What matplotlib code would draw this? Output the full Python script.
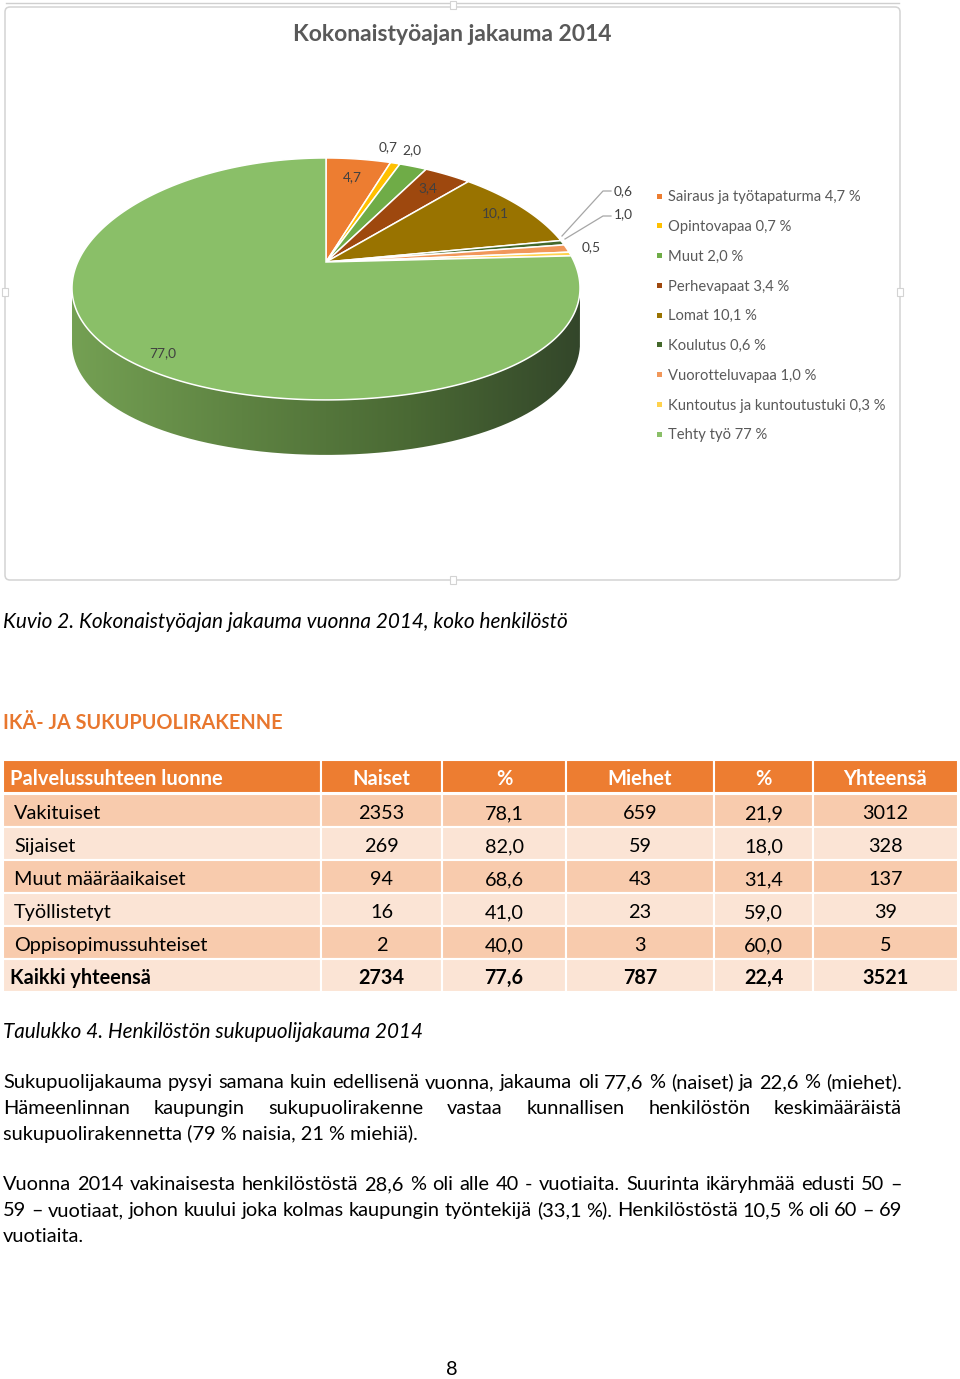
import numpy as np
import matplotlib
matplotlib.use("Agg")
import matplotlib.pyplot as plt
from matplotlib import transforms as mtransforms
from matplotlib.path import Path
from matplotlib.patches import Rectangle, FancyBboxPatch
from matplotlib.colors import LinearSegmentedColormap

plt.rcParams['font.family'] = ['Lato', 'DejaVu Sans']

# ---------------- data ----------------
chart_title = "Kokonaistyöajan jakauma 2014"
pie_categories = ["Sairaus ja työtapaturma", "Opintovapaa", "Muut", "Perhevapaat",
                  "Lomat", "Koulutus", "Vuorotteluvapaa",
                  "Kuntoutus ja kuntoutustuki", "Tehty työ"]
pie_values = [4.7, 0.7, 2.0, 3.4, 10.1, 0.6, 1.0, 0.5, 77.0]
pie_value_labels = ["4,7", "0,7", "2,0", "3,4", "10,1", "0,6", "1,0", "0,5", "77,0"]
legend_values = ["4,7 %", "0,7 %", "2,0 %", "3,4 %", "10,1 %", "0,6 %", "1,0 %", "0,3 %", "77 %"]
pie_colors = ["#ED7D31", "#FFC000", "#6FAC47", "#9E480E", "#997300",
              "#43682B", "#F1975A", "#FFD24D", "#8ABF68"]

caption_chart = "Kuvio 2. Kokonaistyöajan jakauma vuonna 2014, koko henkilöstö"
section_heading = "IKÄ- JA SUKUPUOLIRAKENNE"
table_columns = ["Palvelussuhteen luonne", "Naiset", "%", "Miehet", "%", "Yhteensä"]
row_names = ["Vakituiset", "Sijaiset", "Muut määräaikaiset", "Työllistetyt",
             "Oppisopimussuhteiset", "Kaikki yhteensä"]
naiset = [2353, 269, 94, 16, 2, 2734]
naiset_pct = [78.1, 82.0, 68.6, 41.0, 40.0, 77.6]
miehet = [659, 59, 43, 23, 3, 787]
miehet_pct = [21.9, 18.0, 31.4, 59.0, 60.0, 22.4]
yhteensa = [3012, 328, 137, 39, 5, 3521]
caption_table = "Taulukko 4. Henkilöstön sukupuolijakauma 2014"
paragraph_lines = [
    ("Sukupuolijakauma pysyi samana kuin edellisenä vuonna, jakauma oli 77,6 % (naiset) ja 22,6 % (miehet).", True),
    ("Hämeenlinnan kaupungin sukupuolirakenne vastaa kunnallisen henkilöstön keskimääräistä", True),
    ("sukupuolirakennetta (79 % naisia, 21 % miehiä).", False),
    ("Vuonna 2014 vakinaisesta henkilöstöstä 28,6 % oli alle 40 - vuotiaita. Suurinta ikäryhmää edusti 50 –", True),
    ("59 – vuotiaat, johon kuului joka kolmas kaupungin työntekijä (33,1 %). Henkilöstöstä 10,5 % oli 60 – 69", True),
    ("vuotiaita.", False),
]
page_number = "8"


def fmt_pct(v):
    return f"{v:.1f}".replace(".", ",")


# ---------------- figure / page axes (1 unit = 1 px, y down) ----------------
W, H = 960, 1379
fig = plt.figure(figsize=(W / 100, H / 100), dpi=100)
fig.patch.set_facecolor("white")


def setup(ax):
    ax.set_xlim(0, W)
    ax.set_ylim(H, 0)
    ax.set_axis_off()
    ax.patch.set_visible(False)


bg = fig.add_axes([0, 0, 1, 1], zorder=0)
setup(bg)
R = fig.canvas.get_renderer()
PX = 100 / 72.0


def text_width(s, size, **kw):
    t = bg.text(0, 0, s, fontsize=size, **kw)
    w = t.get_window_extent(renderer=R).width
    t.remove()
    return w


def fit(s, target, **kw):
    return 12.0 * target / text_width(s, 12.0, **kw)


def base(yc, fs):
    # baseline for a visual (cap-height) centre at yc
    return yc + 0.36 * fs * PX


# ---------------- perspective transform for the 3-D pie ----------------
class Persp(mtransforms.Transform):
    input_dims = 2
    output_dims = 2
    is_separable = False
    has_inverse = False

    def __init__(self, k, c):
        super().__init__()
        self.k = k
        self.c = c

    def transform_non_affine(self, values):
        v = np.asarray(values, float).reshape(-1, 2)
        d = 1.0 + self.k * v[:, 1]
        X = v[:, 0] / d
        Y = v[:, 1] / d - self.c * X ** 2
        return np.column_stack([X, Y])

    def transform_path_non_affine(self, path):
        verts, codes = [], []
        for seg, code in path.iter_bezier(simplify=False):
            cp = seg.control_points
            if code == Path.MOVETO:
                verts.append(cp[0])
                codes.append(Path.MOVETO)
            else:
                n = 1 if len(cp) == 2 else 40
                pts = seg(np.linspace(0, 1, n + 1)[1:])
                verts.extend(pts)
                codes.extend([Path.LINETO] * len(pts))
                if code == Path.CLOSEPOLY:
                    codes[-1] = Path.CLOSEPOLY
        return Path(self.transform_non_affine(np.array(verts)), codes)


CX, CY, SX, SY, K, C, DEPTH = 326, 262, 251.5, 118.6, 0.14, 0.075, 55
proj = Persp(K, C) + mtransforms.Affine2D().scale(SX, -SY).translate(CX, CY)

# ---------------- chart frame ----------------
bg.add_patch(FancyBboxPatch((5, 7), 895, 573, boxstyle="round,pad=0,rounding_size=5",
                            fc="white", ec="#d3d3d3", lw=1.1, zorder=0))
bg.plot([6, 899], [3, 3], color="#cfcfcf", lw=1.0, zorder=0)
for hx, hy, hw, hh in [(450, 1, 6, 8), (2, 288, 6, 8), (897, 288, 6, 8), (450, 576, 6, 8)]:
    bg.add_patch(Rectangle((hx, hy), hw, hh, fc="white", ec="#d3d3d3", lw=0.8, zorder=0.5))

# ---------------- pie side (gradient band) ----------------
th = np.linspace(np.pi / 2, np.pi / 2 + 2 * np.pi, 2001)
ring = proj.transform(np.column_stack([np.cos(th), np.sin(th)]))
iL, iR = int(np.argmin(ring[:, 0])), int(np.argmax(ring[:, 0]))
front = ring[iL:iR + 1]
band = np.vstack([front, (front + [0, DEPTH])[::-1]])
side_cmap = LinearSegmentedColormap.from_list("side", ["#74A053", "#5E8342", "#4A6934", "#33462A"])
x0, x1 = band[:, 0].min(), band[:, 0].max()
y0, y1 = band[:, 1].min(), band[:, 1].max()
im = bg.imshow(np.linspace(0, 1, 256)[None, :], cmap=side_cmap, extent=(x0, x1, y1, y0),
               aspect="auto", interpolation="bilinear", zorder=1)
im.set_clip_path(Path(band), transform=bg.transData)
setup(bg)

# ---------------- pie top ----------------
pax = fig.add_axes([0, 0, 1, 1], zorder=1)
wedges, _ = pax.pie(pie_values, colors=pie_colors, startangle=90, counterclock=False,
                    wedgeprops=dict(edgecolor="white", linewidth=1.1))
pax.set_axis_off()
pax.patch.set_visible(False)
wedge_tr = proj + bg.transData
for w in wedges:
    w.set_transform(wedge_tr)
    w.set_clip_on(False)

# ---------------- overlay (labels, legend, page text) ----------------
ov = fig.add_axes([0, 0, 1, 1], zorder=2)
setup(ov)

title_fs = fit(chart_title, 317, fontweight="bold")
ov.text(452, base(33, title_fs), chart_title, ha="center", va="baseline",
        fontsize=title_fs, fontweight="bold", color="#595959")

lab_fs = fit("10,1", 27)
label_pos = [(352, 176), (388, 146), (412, 149), (428, 187), (495, 212),
             (614, 190), (614, 213), (582, 246), (163, 352)]
label_ha = ["center", "center", "center", "center", "center", "left", "left", "left", "center"]
for txt, (lx, ly), ha in zip(pie_value_labels, label_pos, label_ha):
    ov.text(lx, base(ly, lab_fs), txt, ha=ha, va="baseline", fontsize=lab_fs, color="#404040")
# leader lines for the two tiny slices
ov.plot([562, 603, 611], [236, 191, 191], color="#a6a6a6", lw=0.9)
ov.plot([565, 603, 611], [239, 216, 216], color="#a6a6a6", lw=0.9)

legend_texts = [f"{c} {v}" for c, v in zip(pie_categories, legend_values)]
leg_fs = fit(legend_texts[0], 191)
for i, (lt, col) in enumerate(zip(legend_texts, pie_colors)):
    yc = 196 + i * 29.75
    ov.add_patch(Rectangle((657, yc - 2.5), 5, 5, fc=col, ec="none"))
    ov.text(668, base(yc, leg_fs), lt, ha="left", va="baseline", fontsize=leg_fs, color="#595959")

# caption of the chart
cap_fs = fit(caption_chart, 562, fontstyle="italic")
ov.text(3, base(621, cap_fs), caption_chart, ha="left", va="baseline",
        fontsize=cap_fs, fontstyle="italic", color="black")

# section heading
head_fs = fit(section_heading, 280, fontweight="bold")
ov.text(3, base(722, head_fs), section_heading, ha="left", va="baseline",
        fontsize=head_fs, fontweight="bold", color="#E8772E")

# ---------------- table ----------------
col_edges = [3, 321, 442, 566, 714, 813, 958]
hdr_top, hdr_bot = 760, 793
row_h = 33
tab_fs = fit("Oppisopimussuhteiset", 193)
hdr_fs = fit(table_columns[0], 211, fontweight="bold")

for j, name in enumerate(table_columns):
    xa, xb = col_edges[j], col_edges[j + 1]
    ov.add_patch(Rectangle((xa, hdr_top), xb - xa, hdr_bot - hdr_top, fc="#ED7D31",
                           ec="white", lw=1.5))
    if j == 0:
        ov.text(10, base(778, hdr_fs), name, ha="left", va="baseline", fontsize=hdr_fs,
                fontweight="bold", color="white")
    else:
        ov.text((xa + xb) / 2, base(778, hdr_fs), name, ha="center", va="baseline",
                fontsize=hdr_fs, fontweight="bold", color="white")

for i, rn in enumerate(row_names):
    top = 794 + i * row_h
    fill = "#F8CBAD" if i % 2 == 0 else "#FBE4D5"
    last = (i == len(row_names) - 1)
    wt = "bold" if last else "normal"
    cells = [rn, str(naiset[i]), fmt_pct(naiset_pct[i]), str(miehet[i]),
             fmt_pct(miehet_pct[i]), str(yhteensa[i])]
    yc = top + 18
    for j, cell in enumerate(cells):
        xa, xb = col_edges[j], col_edges[j + 1]
        ov.add_patch(Rectangle((xa, top), xb - xa, row_h, fc=fill, ec="white", lw=1.5))
        if j == 0:
            ov.text(10 if last else 14, base(yc, tab_fs), cell, ha="left", va="baseline",
                    fontsize=tab_fs, fontweight=wt, color="black")
        else:
            ov.text((xa + xb) / 2, base(yc, tab_fs), cell, ha="center", va="baseline",
                    fontsize=tab_fs, fontweight=wt, color="black")

# table caption
tcap_fs = fit(caption_table, 419, fontstyle="italic")
ov.text(3, base(1031, tcap_fs), caption_table, ha="left", va="baseline",
        fontsize=tcap_fs, fontstyle="italic", color="black")

# ---------------- paragraph text ----------------
body_fs = fit(paragraph_lines[2][0], 415)
line_y = [1081, 1107, 1133, 1183, 1209, 1235]
left, right = 3, 902
for (line, justify), yc in zip(paragraph_lines, line_y):
    yb = base(yc, body_fs)
    if not justify:
        ov.text(left, yb, line, ha="left", va="baseline", fontsize=body_fs, color="black")
        continue
    words = line.split(" ")
    widths = [text_width(wd, body_fs) for wd in words]
    gap = (right - left - sum(widths)) / (len(words) - 1)
    x = left
    for wd, ww in zip(words, widths):
        ov.text(x, yb, wd, ha="left", va="baseline", fontsize=body_fs, color="black")
        x += ww + gap

ov.text(452, base(1368, body_fs), page_number, ha="center", va="baseline",
        fontsize=body_fs, color="black")

fig.savefig("out.png", dpi=100, facecolor="white")
